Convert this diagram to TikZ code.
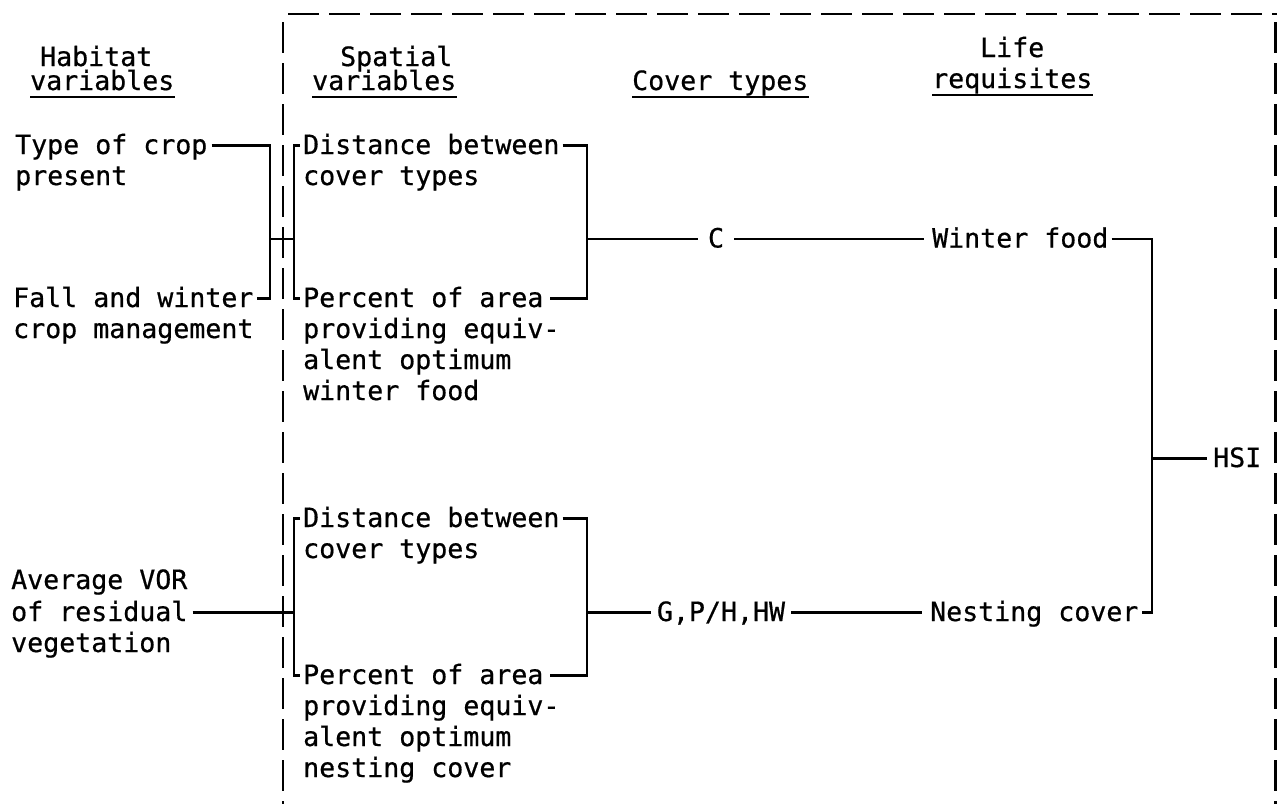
\documentclass[tikz,border=0pt]{standalone}
\usepackage{fontspec}
\newfontfamily\tw[FakeBold=0.6]{DejaVu Sans Mono}
\begin{document}
\begin{tikzpicture}[x=1pt,y=-1pt,
  txt/.style={font=\tw\fontsize{26.6}{31}\selectfont, inner sep=0pt, anchor=base west},
  wire/.style={line width=2.2pt},
  dashbox/.style={line width=2.6pt, dash pattern=on 31pt off 10pt},
  uline/.style={line width=1.6pt},
  lw/.style={yshift=8.5pt, xshift=-#1},
  le/.style={yshift=8.5pt, xshift=#1}]
\fill[white] (0,0) rectangle (1277,804);
\useasboundingbox (0,0) rectangle (1277,804);
% dashed frame
\draw[dashbox] (288,14) -- (1277,14);
\draw[dashbox] (283,22) -- (283,804);
\draw[dashbox, line width=3pt] (1275,22) -- (1275,804);
% headers
\node[txt] (h1a) at (40,66) {Habitat};
\node[txt] (h1b) at (30,90) {variables};
\node[txt] (h2a) at (340,66) {Spatial};
\node[txt] (h2b) at (312,90) {variables};
\node[txt] (h3) at (632,90) {Cover types};
\node[txt] (h4a) at (980,57) {Life};
\node[txt] (h4b) at (932,88) {requisites};
\foreach \n in {h1b,h2b,h3,h4b}
  \draw[uline] ([yshift=-7pt]\n.base west) -- ([yshift=-7pt]\n.base east);
% group 1 texts
\node[txt] (t1) at (15,154) {Type of crop};
\node[txt] (t2) at (15,185) {present};
\node[txt] (f1) at (13,307) {Fall and winter};
\node[txt] (f2) at (13,338) {crop management};
\node[txt] (d1) at (303,154) {Distance between};
\node[txt] (d2) at (303,185) {cover types};
\node[txt] (p1) at (303,307) {Percent of area};
\node[txt] (p2) at (303,338) {providing equiv-};
\node[txt] (p3) at (303,369) {alent optimum};
\node[txt] (p4) at (303,400) {winter food};
\node[txt, anchor=base] (c) at (716,247.5) {C};
\node[txt] (wf) at (932,247.5) {Winter food};
% group 2 texts
\node[txt] (a1) at (11,589) {Average VOR};
\node[txt] (a2) at (11,621) {of residual};
\node[txt] (a3) at (11,652) {vegetation};
\node[txt] (e1) at (303,527) {Distance between};
\node[txt] (e2) at (303,558) {cover types};
\node[txt] (q1) at (303,684) {Percent of area};
\node[txt] (q2) at (303,715) {providing equiv-};
\node[txt] (q3) at (303,746) {alent optimum};
\node[txt] (q4) at (303,777) {nesting cover};
\node[txt, anchor=base] (g) at (721,621) {G,P/H,HW};
\node[txt] (nc) at (930,621) {Nesting cover};
\node[txt] (hsi) at (1213,467) {HSI};
% junctions
\coordinate (jL1) at (270,239);
\coordinate (jS1) at (294,239);
\coordinate (jR1) at (587,239);
\coordinate (jL2) at (294,612.5);
\coordinate (jR2) at (587,612.5);
\coordinate (jH) at (1152,458.5);
% group 1 connectors
\draw[wire] ([le=4pt]t1.base east) -| (jL1) |- ([le=3pt]f1.base east);
\draw[wire] (jL1) -- (jS1);
\draw[wire] ([lw=3pt]d1.base west) -| (jS1) |- ([lw=3pt]p1.base west);
\draw[wire] ([le=3pt]d1.base east) -| (jR1) |- ([le=6pt]p1.base east);
\draw[wire] (jR1) -- ([lw=10pt]c.base west);
\draw[wire] ([le=10pt]c.base east) -- ([lw=8pt]wf.base west);
% group 2 connectors
\draw[wire] ([le=5pt]a2.base east) -- (jL2);
\draw[wire] ([lw=3pt]e1.base west) -| (jL2) |- ([lw=3pt]q1.base west);
\draw[wire] ([le=3pt]e1.base east) -| (jR2) |- ([le=6pt]q1.base east);
\draw[wire] (jR2) -- ([lw=6pt]g.base west);
\draw[wire] ([le=6pt]g.base east) -- ([lw=8pt]nc.base west);
% life requisites to HSI
\draw[wire] ([le=3pt]wf.base east) -| (jH) |- ([le=3pt]nc.base east);
\draw[wire] (jH) -- ([lw=6pt]hsi.base west);
\end{tikzpicture}
\end{document}
